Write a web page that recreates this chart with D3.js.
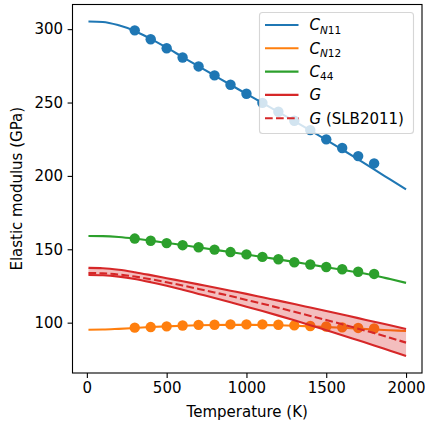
<!DOCTYPE html>
<html>
<head>
<meta charset="utf-8">
<script src="https://cdn.jsdelivr.net/npm/d3@7"></script>
<style>
  body { margin: 0; background: #fff; }
  svg { display: block; font-family: "DejaVu Sans", sans-serif; }
</style>
</head>
<body>
<div id="chart"></div>
<script>
// Temperatures for the model curves (K)
const curveTemps = [10, 100, 200, 300, 400, 500, 600, 700, 800, 900, 1000,
  1100, 1200, 1300, 1400, 1500, 1600, 1700, 1800, 1900, 2000];
const cn11Curve = [305.2, 304.9, 302.6, 298.8, 293.4, 287.4, 281.0, 274.7, 268.4, 262.1, 255.9,
  249.7, 243.5, 237.3, 231.0, 224.6, 218.0, 211.3, 204.4, 197.6, 190.8];
const cn12Curve = [95.2, 95.3, 95.8, 96.4, 97.0, 97.5, 97.9, 98.2, 98.4, 98.5, 98.5,
  98.4, 98.2, 97.9, 97.5, 97.0, 96.5, 95.9, 95.3, 94.8, 94.3];
const c44Curve = [159.1, 159.0, 158.4, 157.3, 155.9, 154.4, 152.9, 151.3, 149.7, 148.1, 146.4,
  144.8, 143.1, 141.4, 139.6, 137.8, 136.0, 134.2, 132.2, 129.7, 127.1];
const gUpper = [137.3, 137.1, 136.1, 134.4, 132.4, 130.3, 128.2, 126.1, 124.0, 121.8, 119.6,
  117.3, 115.0, 112.7, 110.3, 107.9, 105.5, 103.1, 100.6, 98.2, 95.7];
const gLower = [132.5, 132.3, 131.4, 129.8, 127.6, 125.1, 122.4, 119.6, 116.8, 113.9, 110.9,
  107.9, 104.8, 101.6, 98.3, 94.9, 91.5, 88.0, 84.5, 80.9, 77.3];
const gSlb = [133.8, 133.6, 132.8, 131.4, 129.6, 127.5, 125.3, 123.0, 120.6, 118.1, 115.5,
  112.9, 110.2, 107.4, 104.6, 101.8, 98.9, 95.9, 92.9, 89.7, 86.4];

// Measured points (K)
const pointTemps = [300, 400, 500, 600, 700, 800, 900, 1000, 1100, 1200,
  1300, 1400, 1500, 1600, 1700, 1800];
const cn11Points = [299.2, 293.1, 287.0, 280.7, 274.6, 268.5, 262.1, 256.0, 249.8, 243.7,
  237.6, 231.2, 224.9, 219.0, 213.5, 208.5];
const cn12Points = [96.6, 97.0, 97.5, 98.1, 98.5, 98.6, 98.8, 98.8, 98.8, 98.6,
  98.2, 97.7, 97.4, 96.8, 96.4, 96.0];
const c44Points = [157.3, 155.8, 154.2, 152.8, 151.4, 149.8, 148.1, 146.5, 144.8, 143.2,
  141.2, 139.6, 137.9, 136.4, 134.7, 133.2];

const xTicks = [0, 500, 1000, 1500, 2000];
const yTicks = [100, 150, 200, 250, 300];

const COLORS = { blue: '#1f77b4', orange: '#ff7f0e', green: '#2ca02c', red: '#d62728' };

const width = 425, height = 423;
const plot = { left: 72.5, right: 422, top: 4.5, bottom: 373 };
const fontSize = 15;

const svg = d3.select('#chart').append('svg')
  .attr('width', width)
  .attr('height', height);

const x = d3.scaleLinear().domain([-90, 2100]).range([plot.left, plot.right]);
const y = d3.scaleLinear().domain([65.7, 316.8]).range([plot.bottom, plot.top]);

const line = d3.line()
  .x(d => x(d[0]))
  .y(d => y(d[1]))
  .curve(d3.curveMonotoneX);

const zip = (ts, vs) => ts.map((t, i) => [t, vs[i]]);

function drawSeries(curve, points, color) {
  svg.append('path')
    .attr('d', line(zip(curveTemps, curve)))
    .attr('fill', 'none')
    .attr('stroke', color)
    .attr('stroke-width', 2.1);
  if (points) {
    svg.append('g').selectAll('circle')
      .data(zip(pointTemps, points))
      .enter().append('circle')
      .attr('cx', d => x(d[0]))
      .attr('cy', d => y(d[1]))
      .attr('r', 5.2)
      .attr('fill', color);
  }
}

drawSeries(cn11Curve, cn11Points, COLORS.blue);
drawSeries(cn12Curve, cn12Points, COLORS.orange);
drawSeries(c44Curve, c44Points, COLORS.green);

// Shaded band between G bounds
const area = d3.area()
  .x((d, i) => x(curveTemps[i]))
  .y0((d, i) => y(gLower[i]))
  .y1((d, i) => y(gUpper[i]))
  .curve(d3.curveMonotoneX);
svg.append('path')
  .attr('d', area(curveTemps))
  .attr('fill', COLORS.red)
  .attr('fill-opacity', 0.3);

drawSeries(gUpper, null, COLORS.red);
drawSeries(gLower, null, COLORS.red);
svg.append('path')
  .attr('d', line(zip(curveTemps, gSlb)))
  .attr('fill', 'none')
  .attr('stroke', COLORS.red)
  .attr('stroke-width', 2.1)
  .attr('stroke-dasharray', '7.7,3.3');

// Axes
const xAxis = svg.append('g')
  .attr('transform', `translate(0,${plot.bottom})`)
  .call(d3.axisBottom(x).tickValues(xTicks).tickFormat(d3.format('d'))
    .tickSize(4.9).tickPadding(4.5));
const yAxis = svg.append('g')
  .attr('transform', `translate(${plot.left},0)`)
  .call(d3.axisLeft(y).tickValues(yTicks).tickFormat(d3.format('d'))
    .tickSize(4.9).tickPadding(4.5));

[xAxis, yAxis].forEach(g => {
  g.select('.domain').remove();
  g.selectAll('.tick line').attr('stroke', '#000').attr('stroke-width', 1.1);
  g.selectAll('.tick text')
    .attr('fill', '#000')
    .style('font-size', fontSize + 'px')
    .style('font-family', '"DejaVu Sans", sans-serif');
});

// Frame
svg.append('rect')
  .attr('x', plot.left)
  .attr('y', plot.top)
  .attr('width', plot.right - plot.left)
  .attr('height', plot.bottom - plot.top)
  .attr('fill', 'none')
  .attr('stroke', '#000')
  .attr('stroke-width', 1.1);

// Axis labels
svg.append('text')
  .attr('x', (plot.left + plot.right) / 2)
  .attr('y', 417)
  .attr('text-anchor', 'middle')
  .style('font-size', fontSize + 'px')
  .text('Temperature (K)');

svg.append('text')
  .attr('transform', `translate(21.5,${(plot.top + plot.bottom) / 2}) rotate(-90)`)
  .attr('text-anchor', 'middle')
  .style('font-size', fontSize + 'px')
  .text('Elastic modulus (GPa)');

// Legend
const legendItems = [
  { color: COLORS.blue, main: 'C', sub: 'N11', rest: '' },
  { color: COLORS.orange, main: 'C', sub: 'N12', rest: '' },
  { color: COLORS.green, main: 'C', sub: '44', rest: '' },
  { color: COLORS.red, main: 'G', sub: '', rest: '' },
  { color: COLORS.red, main: 'G', sub: '', rest: ' (SLB2011)', dashed: true },
];

const legend = svg.append('g');
legend.append('rect')
  .attr('x', 259.5)
  .attr('y', 12.5)
  .attr('width', 154)
  .attr('height', 121)
  .attr('rx', 3)
  .attr('fill', '#fff')
  .attr('fill-opacity', 0.8)
  .attr('stroke', '#ccc')
  .attr('stroke-opacity', 0.8)
  .attr('stroke-width', 1.1);

legendItems.forEach((item, i) => {
  const cy = 25 + i * 23.3;
  legend.append('line')
    .attr('x1', 265).attr('x2', 298.5)
    .attr('y1', cy).attr('y2', cy)
    .attr('stroke', item.color)
    .attr('stroke-width', 2.1)
    .attr('stroke-dasharray', item.dashed ? '7.7,3.3' : null);

  const t = legend.append('text')
    .attr('x', 309.5)
    .attr('y', cy + 5.3)
    .style('font-size', fontSize + 'px');
  t.append('tspan').style('font-style', 'italic').text(item.main);
  if (item.sub) {
    const isNum = /^\d+$/.test(item.sub);
    if (isNum) {
      t.append('tspan').attr('dy', 3.3).style('font-size', '10.5px').text(item.sub);
    } else {
      t.append('tspan').attr('dy', 3.3).style('font-size', '10.5px')
        .style('font-style', 'italic').text(item.sub[0]);
      t.append('tspan').style('font-size', '10.5px').text(item.sub.slice(1));
    }
  }
  if (item.rest) t.append('tspan').text(item.rest);
});
</script>
</body>
</html>
